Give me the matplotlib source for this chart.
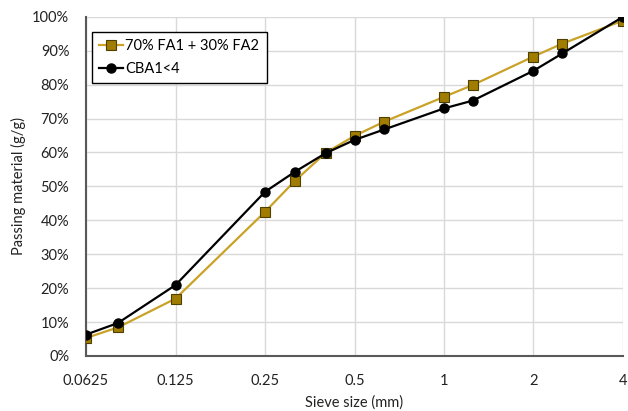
import numpy as np
import matplotlib
matplotlib.use("Agg")
from matplotlib import pyplot as plt
from matplotlib.ticker import FixedLocator, FixedFormatter, PercentFormatter

# sieve sizes (mm)
sizes = [0.0625, 0.08, 0.125, 0.25, 0.315, 0.4, 0.5, 0.63, 1, 1.25, 2, 2.5, 4]
# passing material (%)
mix_fa = [5.3, 8.4, 16.9, 42.5, 51.6, 59.9, 64.9, 69.1, 76.4, 79.9, 88.3, 92.1, 98.9]
cba1 = [6.3, 9.7, 20.9, 48.4, 54.3, 59.8, 63.7, 66.8, 73.0, 75.3, 84.1, 89.2, 100.0]

xticks = [0.0625, 0.125, 0.25, 0.5, 1, 2, 4]
xtick_labels = ["0.0625", "0.125", "0.25", "0.5", "1", "2", "4"]

plt.rcParams["font.family"] = ["Lato", "DejaVu Sans"]

fig = plt.figure(figsize=(6.28, 4.11), dpi=100)
ax = fig.add_axes([0.137, 0.134, 0.855, 0.825])

ax.plot(sizes, mix_fa, color="#C9A227", lw=1.6, marker="s", ms=7,
        mfc="#A07C00", mec="#4d4000", mew=0.8, label="70% FA1 + 30% FA2", zorder=3)
ax.plot(sizes, cba1, color="black", lw=1.6, marker="o", ms=6.5,
        mfc="black", mec="black", label="CBA1<4", zorder=4)

ax.set_xscale("log", base=2)
ax.set_xlim(0.0625, 4)
ax.set_ylim(0, 100)
ax.xaxis.set_major_locator(FixedLocator(xticks))
ax.xaxis.set_major_formatter(FixedFormatter(xtick_labels))
ax.xaxis.set_minor_locator(FixedLocator([]))
ax.set_yticks(np.arange(0, 101, 10))
ax.yaxis.set_major_formatter(PercentFormatter(decimals=0))

ax.grid(True, color="#d9d9d9", lw=1)
ax.set_axisbelow(True)
for s in ["top", "right"]:
    ax.spines[s].set_visible(False)
for s in ["left", "bottom"]:
    ax.spines[s].set_color("#595959")
    ax.spines[s].set_linewidth(1.5)
ax.tick_params(length=0, labelsize=10.5, colors="#222222")
ax.tick_params(axis="x", pad=13)
ax.tick_params(axis="y", pad=12)

ax.set_xlabel("Sieve size (mm)", fontsize=10.5, color="#222222", labelpad=5.5)
ax.set_ylabel("Passing material (g/g)", fontsize=10.5, color="#222222", labelpad=4.5)

leg = ax.legend(loc="upper left", bbox_to_anchor=(0.011, 0.956), borderaxespad=0,
                fontsize=10.5, frameon=True, fancybox=False, edgecolor="black",
                framealpha=1, handlelength=1.6, handletextpad=0.2, borderpad=0.5,
                labelspacing=0.6)
leg.get_frame().set_linewidth(1.0)

plt.savefig("out.png", dpi=100)
plt.close()
